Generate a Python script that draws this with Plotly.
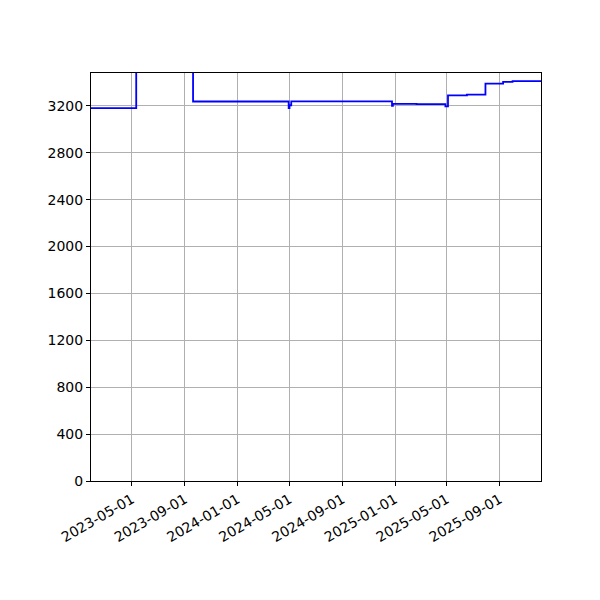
import plotly.graph_objects as go

# step series
dates = ["2023-01-26", "2023-05-11", "2023-09-20", "2024-04-29", "2024-05-01",
         "2024-05-05", "2024-12-25", "2024-12-27", "2025-02-20", "2025-04-28",
         "2025-05-04", "2025-06-17", "2025-07-30", "2025-09-09", "2025-10-01",
         "2025-12-06"]
values = [3180, 3600, 3237, 3180, 3205,
          3238, 3200, 3217, 3214, 3195,
          3290, 3295, 3390, 3405, 3410,
          3410]

tick_dates = ["2023-05-01", "2023-09-01", "2024-01-01", "2024-05-01",
              "2024-09-01", "2025-01-01", "2025-05-01", "2025-09-01"]
y_ticks = [0, 400, 800, 1200, 1600, 2000, 2400, 2800, 3200]

fig = go.Figure()
fig.add_trace(go.Scatter(x=dates, y=values, mode="lines", line_shape="hv",
                         line=dict(color="blue", width=1.8)))

fig.update_layout(
    width=600, height=600,
    margin=dict(l=83, r=67, t=65, b=127),
    plot_bgcolor="white", paper_bgcolor="white",
    showlegend=False,
    font=dict(family="DejaVu Sans", size=14, color="black"),
)
fig.update_xaxes(
    range=["2023-01-26", "2025-12-06"],
    tickvals=tick_dates, ticktext=tick_dates, tickangle=-30,
    showgrid=True, gridcolor="#b0b0b0", gridwidth=1,
    showline=True, linecolor="black", linewidth=1, mirror=True,
    ticks="outside", ticklen=4, tickcolor="black", zeroline=False,
)
fig.update_yaxes(
    range=[0, 3480], tickvals=y_ticks,
    showgrid=True, gridcolor="#b0b0b0", gridwidth=1,
    showline=True, linecolor="black", linewidth=1, mirror=True,
    ticks="outside", ticklen=4, tickcolor="black", zeroline=False,
)

fig.write_html("out.html")
